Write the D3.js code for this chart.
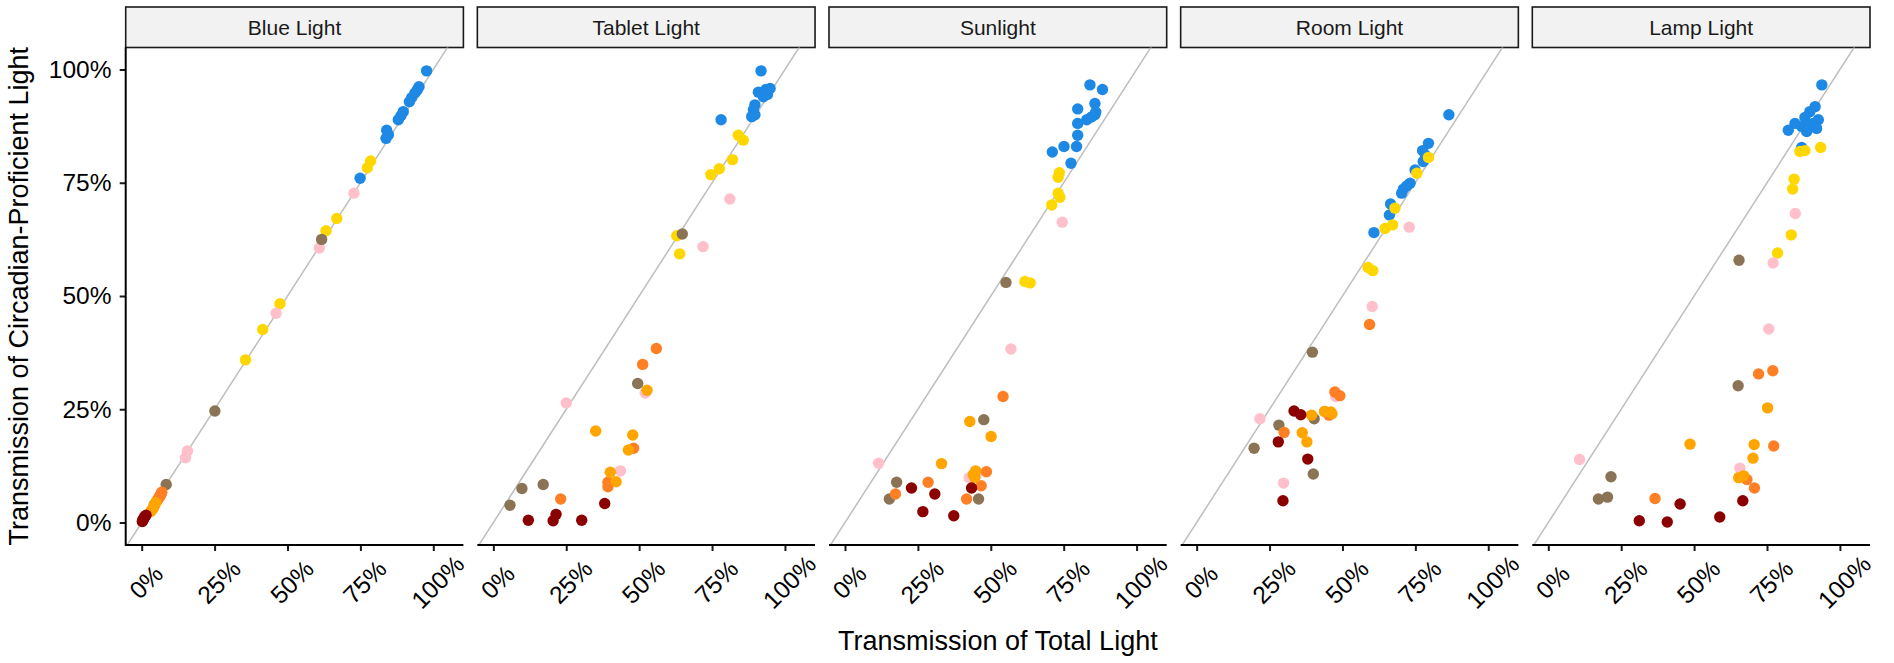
<!DOCTYPE html>
<html>
<head>
<meta charset="utf-8">
<script src="https://cdn.jsdelivr.net/npm/d3@7"></script>
<style>
  html, body { margin: 0; padding: 0; background: #ffffff; }
  svg { display: block; font-family: "Liberation Sans", Arial, Helvetica, sans-serif; }
</style>
</head>
<body>
<svg id="chart" width="1894" height="663"></svg>
<script>
// ---------------- DATA ----------------
const panels = ["Blue Light", "Tablet Light", "Sunlight", "Room Light", "Lamp Light"];
const seriesNames = ["Blue", "Yellow", "Pink", "Brown", "Orange", "Amber", "Red"];
const seriesColors = ["#1E88E5", "#FFD700", "#FFC0CB", "#8B7355", "#FF7F24", "#FFA500", "#8B0000"];
const xTicks = [0, 25, 50, 75, 100];
const yTicks = [0, 25, 50, 75, 100];
const xTitle = "Transmission of Total Light";
const yTitle = "Transmission of Circadian-Proficient Light";

// [series, total light %, circadian light %]
const blueLightData = [
  ["Blue",97.7,99.7],["Blue",95.1,96.2],["Blue",94.5,95.5],["Blue",93.7,94.8],["Blue",92.6,93.8],
  ["Blue",91.8,92.9],["Blue",89.7,90.7],["Blue",88.9,89.8],["Blue",88.0,88.9],["Blue",84.0,86.6],
  ["Blue",84.6,85.6],["Blue",83.8,84.8],["Blue",74.9,76.0],
  ["Yellow",78.5,79.8],["Yellow",77.4,78.3],["Yellow",66.9,67.1],["Yellow",63.2,64.4],["Yellow",47.4,48.3],
  ["Yellow",41.5,42.6],["Yellow",35.6,35.9],
  ["Pink",72.8,72.7],["Pink",60.9,60.6],["Pink",46.1,46.2],["Pink",15.7,15.8],["Pink",15.0,14.3],
  ["Brown",61.7,62.5],["Brown",25.1,24.6],["Brown",8.4,8.4],["Brown",6.5,6.2],["Brown",4.3,3.9],
  ["Orange",6.9,6.7],["Orange",6.7,6.4],["Orange",6.2,5.7],["Orange",6.0,5.6],["Orange",5.6,5.2],["Orange",5.3,4.8],
  ["Amber",4.5,3.9],["Amber",3.9,3.1],["Amber",4.2,3.6],["Amber",3.5,2.8],["Amber",4.8,4.4],["Amber",3.2,2.5],
  ["Red",1.0,1.3],["Red",0.4,0.6],["Red",1.5,1.6],["Red",0.7,0.8],["Red",0.2,0.2]
];
const tabletLightData = [
  ["Blue",91.8,99.7],["Blue",94.9,95.8],["Blue",93.2,95.2],["Blue",90.9,95.0],["Blue",92.6,94.0],
  ["Blue",94.0,94.5],["Blue",89.7,92.2],["Blue",89.2,91.1],["Blue",89.7,90.0],["Blue",88.6,89.6],
  ["Blue",78.1,88.9],["Blue",93.5,95.6],
  ["Yellow",84.0,85.5],["Yellow",85.7,84.4],["Yellow",82.0,80.1],["Yellow",77.5,78.1],["Yellow",74.6,76.8],
  ["Yellow",62.9,63.3],["Yellow",63.9,59.3],
  ["Pink",81.1,71.4],["Pink",71.9,60.9],["Pink",25.0,26.4],["Pink",52.1,28.6],["Pink",43.6,11.4],
  ["Brown",64.8,63.7],["Brown",49.5,30.7],["Brown",17.1,8.4],["Brown",9.8,7.5],["Brown",5.7,3.8],
  ["Orange",55.9,38.4],["Orange",51.2,34.9],["Orange",48.1,16.4],["Orange",23.1,5.2],["Orange",39.3,8.9],["Orange",39.3,7.9],
  ["Amber",52.7,29.2],["Amber",35.1,20.2],["Amber",47.8,19.3],["Amber",46.3,16.0],["Amber",40.1,11.1],["Amber",42.1,9.0],
  ["Red",38.2,4.2],["Red",21.5,1.8],["Red",20.5,0.4],["Red",12.0,0.5],["Red",30.3,0.5]
];
const sunlightData = [
  ["Blue",84.0,96.6],["Blue",88.3,95.6],["Blue",85.7,92.5],["Blue",79.8,91.3],["Blue",85.7,90.0],
  ["Blue",86.0,90.6],["Blue",82.9,88.9],["Blue",84.5,89.5],["Blue",79.8,88.1],["Blue",79.8,85.5],
  ["Blue",75.1,83.0],["Blue",79.4,83.0],["Blue",71.1,81.8],["Blue",77.5,79.3],
  ["Yellow",73.5,77.2],["Yellow",73.1,76.2],["Yellow",73.1,72.7],["Yellow",73.7,71.8],["Yellow",70.9,70.1],
  ["Yellow",61.7,53.2],["Yellow",63.5,52.9],
  ["Pink",74.5,66.3],["Pink",56.9,38.3],["Pink",11.5,13.1],["Pink",42.6,9.9],["Pink",45.0,10.5],
  ["Brown",55.2,53.0],["Brown",47.6,22.7],["Brown",17.7,8.9],["Brown",15.2,5.2],["Brown",45.8,5.2],
  ["Orange",54.2,27.8],["Orange",48.5,11.2],["Orange",28.5,8.9],["Orange",17.3,6.3],["Orange",46.7,8.1],["Orange",41.7,5.2],
  ["Amber",42.8,22.3],["Amber",50.1,19.0],["Amber",33.1,13.0],["Amber",44.8,11.4],["Amber",44.5,9.9],["Amber",44.0,10.6],
  ["Red",22.8,7.6],["Red",30.8,6.3],["Red",43.4,7.6],["Red",26.7,2.4],["Red",37.3,1.5]
];
const roomLightData = [
  ["Blue",86.5,90.0],["Blue",79.5,83.7],["Blue",77.5,82.1],["Blue",77.7,79.7],["Blue",74.9,77.8],
  ["Blue",73.2,74.9],["Blue",72.0,74.3],["Blue",70.9,73.6],["Blue",70.3,72.7],["Blue",66.5,70.3],
  ["Blue",66.1,67.9],["Blue",60.8,64.0],["Blue",78.5,81.0],
  ["Yellow",79.5,80.6],["Yellow",75.5,77.1],["Yellow",68.0,69.4],["Yellow",67.2,65.7],["Yellow",64.6,64.9],
  ["Yellow",58.8,56.3],["Yellow",60.4,55.6],
  ["Pink",72.9,65.2],["Pink",60.2,47.7],["Pink",21.7,22.9],["Pink",29.8,8.7],["Pink",47.7,27.8],
  ["Brown",39.7,37.6],["Brown",28.2,21.5],["Brown",19.7,16.4],["Brown",40.3,22.9],["Brown",40.0,10.7],
  ["Orange",59.3,43.7],["Orange",47.4,28.8],["Orange",49.1,28.0],["Orange",45.4,23.7],["Orange",30.0,19.9],["Orange",43.9,24.5],
  ["Amber",39.4,23.7],["Amber",43.9,24.5],["Amber",46.4,24.0],["Amber",36.2,19.8],["Amber",37.8,17.8],["Amber",46.0,24.4],
  ["Red",33.4,24.6],["Red",35.7,23.8],["Red",28.0,17.8],["Red",38.1,14.0],["Red",29.6,4.8]
];
const lampLightData = [
  ["Blue",93.8,96.6],["Blue",91.5,91.8],["Blue",89.7,90.7],["Blue",92.6,88.9],["Blue",90.9,88.1],
  ["Blue",89.2,87.7],["Blue",86.9,87.4],["Blue",84.6,88.1],["Blue",82.3,86.6],["Blue",92.0,87.0],
  ["Blue",88.6,86.3],["Blue",86.9,82.8],["Blue",88.0,89.4],
  ["Yellow",93.4,82.8],["Yellow",86.3,81.9],["Yellow",88.0,82.1],["Yellow",84.3,75.8],["Yellow",83.8,73.6],
  ["Yellow",83.3,63.5],["Yellow",78.6,59.5],
  ["Pink",84.7,68.2],["Pink",77.1,57.3],["Pink",75.6,42.7],["Pink",10.7,13.9],["Pink",65.7,12.0],
  ["Brown",65.4,57.9],["Brown",65.1,30.2],["Brown",21.5,10.1],["Brown",20.3,5.6],["Brown",17.2,5.2],
  ["Orange",77.0,33.5],["Orange",72.1,32.8],["Orange",77.3,16.9],["Orange",68.1,9.5],["Orange",70.7,7.6],["Orange",36.6,5.3],
  ["Amber",75.2,25.3],["Amber",48.6,17.3],["Amber",70.6,17.2],["Amber",70.2,14.2],["Amber",65.3,9.9],["Amber",67.0,10.3],
  ["Red",66.7,4.8],["Red",58.8,1.2],["Red",45.2,4.1],["Red",40.8,0.1],["Red",31.2,0.4]
];
const panelData = [blueLightData, tabletLightData, sunlightData, roomLightData, lampLightData];

// ---------------- LAYOUT ----------------
const svg = d3.select("#chart");
const panelLeft0 = 125.7, panelStep = 351.65, panelW = 337.7;
const panelTop = 47.5, panelBottom = 545, stripTop = 7;
const x0Off = 16, x100Off = 307.6;

const color = d3.scaleOrdinal().domain(seriesNames).range(seriesColors);
const y = d3.scaleLinear().domain([0, 100]).range([522.5, 69.5]);

const defs = svg.append("defs");

panels.forEach((name, k) => {
  const L = panelLeft0 + k * panelStep;
  const x = d3.scaleLinear().domain([0, 100]).range([L + x0Off, L + x100Off]);

  defs.append("clipPath").attr("id", "clip" + k)
    .append("rect").attr("x", L).attr("y", panelTop).attr("width", panelW).attr("height", panelBottom - panelTop);

  const g = svg.append("g");

  // strip
  g.append("rect")
    .attr("x", L).attr("y", stripTop).attr("width", panelW).attr("height", panelTop - stripTop)
    .attr("fill", "#F2F2F2").attr("stroke", "#1a1a1a").attr("stroke-width", 1.6);
  g.append("text")
    .attr("x", L + panelW / 2).attr("y", (stripTop + panelTop) / 2)
    .attr("dy", "0.35em").attr("text-anchor", "middle")
    .attr("font-size", 21).attr("fill", "#1a1a1a").text(name);

  const plot = g.append("g").attr("clip-path", "url(#clip" + k + ")");

  // y = x reference line
  const lo = x.invert(L - 5), hi = x.invert(L + panelW + 5);
  plot.append("line")
    .attr("x1", x(lo)).attr("y1", y(lo)).attr("x2", x(hi)).attr("y2", y(hi))
    .attr("stroke", "#BEBEBE").attr("stroke-width", 1.5);

  // points (draw in series order)
  const ordered = seriesNames.flatMap(s => panelData[k].filter(d => d[0] === s));
  plot.selectAll("circle").data(ordered).join("circle")
    .attr("cx", d => x(d[1])).attr("cy", d => y(d[2]))
    .attr("r", 5.7).attr("fill", d => color(d[0]));

  // x axis
  const xa = g.append("g").attr("transform", `translate(0,${panelBottom})`)
    .call(d3.axisBottom(x).tickValues(xTicks).tickSize(6).tickSizeOuter(0).tickFormat(d => d + "%"));
  xa.select(".domain").remove();
  xa.selectAll(".tick line").attr("stroke", "#1a1a1a").attr("stroke-width", 2);
  xa.selectAll(".tick text")
    .attr("x", 0).attr("y", 0).attr("dy", null)
    .attr("transform", "translate(4,37) rotate(-45)")
    .attr("text-anchor", "middle").attr("dominant-baseline", "central")
    .attr("font-size", 24.5).attr("font-family", "Liberation Sans, Arial, sans-serif").attr("fill", "#000");
  g.append("line")
    .attr("x1", L).attr("x2", L + panelW).attr("y1", panelBottom).attr("y2", panelBottom)
    .attr("stroke", "#000").attr("stroke-width", 2);

  // y axis on first panel
  if (k === 0) {
    const ya = g.append("g").attr("transform", `translate(${L},0)`)
      .call(d3.axisLeft(y).tickValues(yTicks).tickSize(6).tickPadding(8.2).tickFormat(d => d + "%"));
    ya.select(".domain").remove();
    ya.selectAll(".tick line").attr("stroke", "#1a1a1a").attr("stroke-width", 2);
    ya.selectAll(".tick text")
      .attr("font-size", 24.5).attr("font-family", "Liberation Sans, Arial, sans-serif").attr("fill", "#000");
    g.append("line")
      .attr("x1", L).attr("x2", L).attr("y1", panelTop).attr("y2", panelBottom + 1)
      .attr("stroke", "#000").attr("stroke-width", 2);
  }
});

// axis titles
const plotCenterX = (panelLeft0 + panelLeft0 + 4 * panelStep + panelW) / 2;
svg.append("text")
  .attr("x", plotCenterX).attr("y", 650)
  .attr("text-anchor", "middle").attr("font-size", 27).attr("fill", "#000")
  .text(xTitle);
svg.append("text")
  .attr("transform", `translate(28,${(panelTop + panelBottom) / 2}) rotate(-90)`)
  .attr("text-anchor", "middle").attr("font-size", 27).attr("fill", "#000")
  .text(yTitle);
</script>
</body>
</html>
